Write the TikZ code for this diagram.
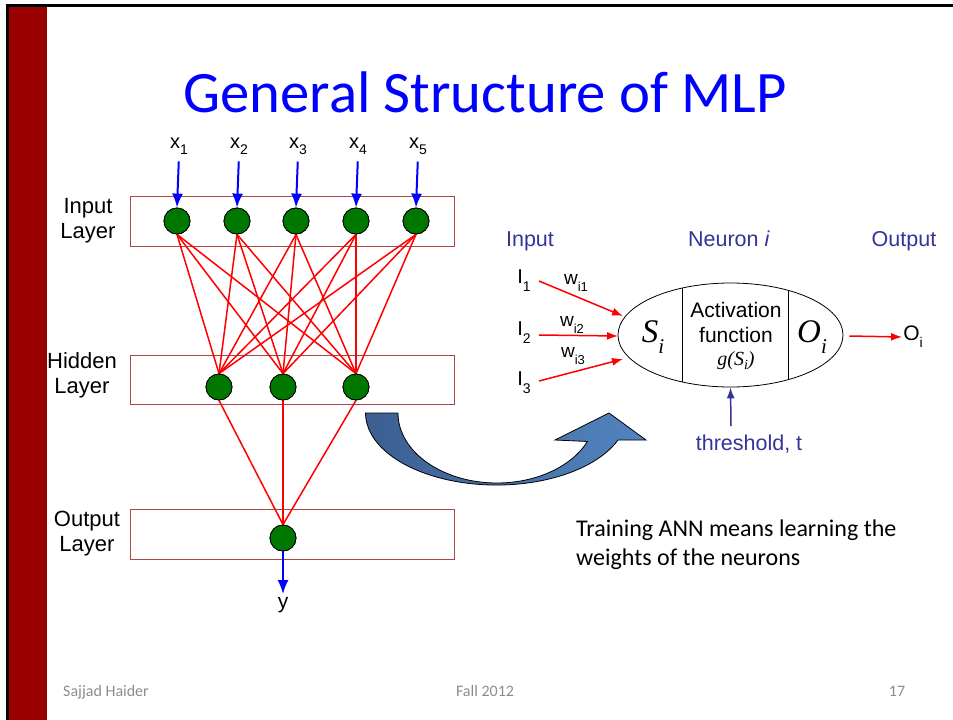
\documentclass[tikz,border=0pt]{standalone}
\usepackage{fontspec}
\setmainfont{Liberation Sans}
\newfontfamily\calibri{Carlito}
\newfontfamily\timesfont{Liberation Serif}
\usetikzlibrary{arrows.meta}
\usetikzlibrary{positioning}
\usetikzlibrary{shapes.geometric}

\definecolor{slidered}{RGB}{153,0,0}
\definecolor{boxred}{RGB}{175,70,70}
\definecolor{unitgreen}{RGB}{0,120,0}
\definecolor{navytext}{RGB}{51,51,153}
\definecolor{arrowdark}{RGB}{60,95,145}
\definecolor{arrowlight}{RGB}{82,132,192}
\definecolor{footgray}{RGB}{140,140,140}

\newcommand{\subtxt}[3]{\raisebox{#1}{\fontsize{#2}{#2}\selectfont #3}}

\tikzset{unit/.style = {draw=black, fill=unitgreen, circle, inner sep=0, minimum size=26pt, line width=0.8pt}}
\tikzset{layerbox/.style = {draw=boxred, line width=1pt}}
\tikzset{wire/.style = {red, line width=1.5pt}}
\tikzset{inarrow/.style = {blue, line width=2pt, -{Latex[length=14pt, width=11pt]}}}
\tikzset{redarrow/.style = {red, line width=1.5pt, -{Latex[length=11pt, width=8pt]}}}
\tikzset{lbl/.style = {inner sep=1pt, font=\fontsize{22}{25}\selectfont, align=center}}
\tikzset{footer/.style = {inner sep=0, text=footgray, font=\calibri\fontsize{16}{16}\selectfont}}

\begin{document}
\begin{tikzpicture}[x=1pt, y=-1pt]
  \useasboundingbox (0,0) rectangle (953,720);
  % slide frame
  \fill [black] (6,4) rectangle (953,7);
  \fill [black] (6,4) rectangle (9,720);
  \fill [slidered] (9,7) rectangle (47,720);
  \node [anchor=base, text=blue, font=\calibri\fontsize{58.7}{60}\selectfont] (title) at (485,112) {General Structure of MLP};

  % layers
  \draw [layerbox] (130,196) rectangle (454,246);
  \draw [layerbox] (130,355) rectangle (454,404);
  \draw [layerbox] (130,509) rectangle (454,559);
  \node [lbl] (inlayer) at (88,221) {Input\\Layer};
  \node [lbl] (hidlayer) at (82,375) {Hidden\\Layer};
  \node [lbl] (outlayer) at (87,534) {Output\\Layer};

  % units
  \foreach \i/\x in {1/177, 2/237, 3/296, 4/356, 5/416}
    \node [unit] (in\i) at (\x,221) {};
  \foreach \j/\x in {1/219, 2/283, 3/356}
    \node [unit] (hid\j) at (\x,387) {};
  \node [unit] (out) at (283,538) {};

  % wires
  \foreach \i in {1,...,5}
    \foreach \j in {1,2,3}
      \draw [wire] (in\i.south) -- (hid\j.north);
  \foreach \j in {1,2,3}
    \draw [wire] (hid\j.south) -- (out.north);

  % redraw units on top of the wires
  \foreach \x in {177, 237, 296, 356, 416}
    \node [unit] at (\x,221) {};
  \foreach \x in {219, 283, 356}
    \node [unit] at (\x,387) {};
  \node [unit] at (283,538) {};

  % inputs and output
  \foreach \i/\x in {1/177, 2/237, 3/296, 4/356, 5/416} {
    \node [inner sep=1pt, font=\fontsize{20}{20}\selectfont] (lx\i) at (\x+2,146) {x\subtxt{-6pt}{14}{\i}};
    \draw [inarrow, shorten <=6pt] (lx\i.south) -- (in\i.north);
  }
  \node [inner sep=1pt, font=\fontsize{21}{21}\selectfont] (ylab) at (283,605) {y};
  \draw [inarrow, shorten >=2pt] (out.south) -- (ylab.north);

  % curved arrow
  \draw [black, line width=0.8pt, left color=arrowdark, right color=arrowlight]
    (366,413) -- (398,413)
    arc [start angle=180, end angle=24, x radius=99, y radius=70]
    -- (555,440) -- (609,413) -- (646,440) -- (618,440)
    arc [start angle=22, end angle=180, x radius=131, y radius=72] -- cycle;

  % single neuron
  \node [text=navytext, lbl, anchor=base, font=\fontsize{21.5}{25}\selectfont] (ihead) at (530,246) {Input};
  \node [text=navytext, lbl, anchor=base, font=\fontsize{21.5}{25}\selectfont] (nhead) at (729,246) {Neuron \textit{i}};
  \node [text=navytext, lbl, anchor=base, font=\fontsize{21.5}{25}\selectfont] (ohead) at (904,246) {Output};

  \node [draw, ellipse, line width=0.8pt, minimum width=225pt, minimum height=104pt, inner sep=0] (neuron) at (730.5,335) {};
  \begin{scope}
    \clip (730.5,335) ellipse [x radius=112.5, y radius=52];
    \draw [line width=0.8pt] (682,270) -- (682,400);
    \draw [line width=0.8pt] (788,270) -- (788,400);
  \end{scope}
  \node [inner sep=0, font=\timesfont\itshape\fontsize{33}{33}\selectfont] (si) at (653,337) {S\subtxt{-11pt}{21}{i}};
  \node [inner sep=0, font=\timesfont\itshape\fontsize{33}{33}\selectfont] (oi) at (812,337) {O\subtxt{-11pt}{21}{i}};
  \node [lbl, font=\fontsize{21}{25}\selectfont] (act) at (736,322) {Activation\\function};
  \node [inner sep=0, font=\timesfont\itshape\fontsize{20}{20}\selectfont] (gfun) at (736,361) {g(S\subtxt{-4pt}{14}{i})};

  \node [lbl, font=\fontsize{20}{20}\selectfont] (i1) at (524,281) {I\subtxt{-8pt}{14}{1}};
  \node [lbl, font=\fontsize{20}{20}\selectfont] (i2) at (524,333) {I\subtxt{-8pt}{14}{2}};
  \node [lbl, font=\fontsize{20}{20}\selectfont] (i3) at (524,383) {I\subtxt{-8pt}{14}{3}};
  \coordinate (tip1) at (623,316);
  \coordinate (tip2) at (618,336);
  \coordinate (tip3) at (623,359);
  \draw [redarrow] (539,281) -- (tip1);
  \draw [redarrow] (i2.east) ++(7,2) -- (tip2);
  \draw [redarrow] (539,381) -- (tip3);
  \node [lbl, font=\fontsize{19}{19}\selectfont] (w1) at (576,283) {w\subtxt{-7pt}{13}{i1}};
  \node [lbl, font=\fontsize{19}{19}\selectfont] (w2) at (572,325) {w\subtxt{-7pt}{13}{i2}};
  \node [lbl, font=\fontsize{19}{19}\selectfont] (w3) at (573,356) {w\subtxt{-7pt}{13}{i3}};

  \node [lbl, font=\fontsize{21}{21}\selectfont] (oout) at (913,337) {O\subtxt{-7pt}{14}{i}};
  \draw [redarrow] (neuron.east) ++(6,1) -- (oout.west);

  \node [lbl, text=navytext, anchor=base, font=\fontsize{21.5}{25}\selectfont] (thr) at (749,450) {threshold, t};
  \draw [navytext, line width=1.5pt, -{Latex[length=11pt, width=8pt]}] (thr.north) ++(-18,-7) -- (neuron.south);

  % note text
  \node [anchor=west, align=left, inner sep=0, font=\calibri\fontsize{24}{29}\selectfont] (note) at (576,545) {Training ANN means learning the\\weights of the neurons};

  % footer
  \node [footer, anchor=base west] (author) at (63,696) {Sajjad Haider};
  \node [footer, anchor=base] (term) at (485,696) {Fall 2012};
  \node [footer, anchor=base] (page) at (897,696) {17};
\end{tikzpicture}
\end{document}
